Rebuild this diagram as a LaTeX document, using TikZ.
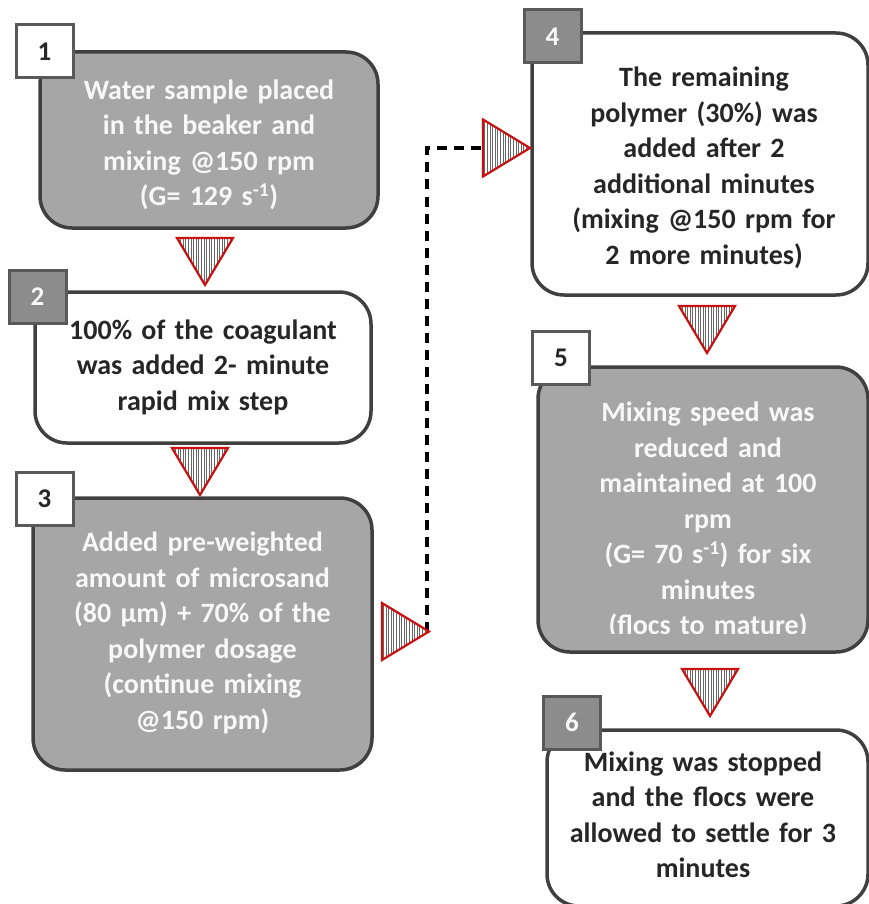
\documentclass[tikz,border=0pt]{standalone}
\usepackage{fontspec}
\setmainfont{Carlito}
\usetikzlibrary{patterns}
\pgfdeclarepatternformonly{finevlines}{\pgfqpoint{0pt}{-1pt}}{\pgfqpoint{2.6pt}{1pt}}{\pgfqpoint{2.6pt}{2pt}}{%
  \pgfsetlinewidth{0.9pt}%
  \pgfpathmoveto{\pgfqpoint{1.3pt}{-1.1pt}}%
  \pgfpathlineto{\pgfqpoint{1.3pt}{1.1pt}}%
  \pgfusepath{stroke}}
\definecolor{boxgray}{RGB}{166,166,166}
\definecolor{numgray}{RGB}{140,140,140}
\definecolor{edgedark}{RGB}{64,64,64}
\definecolor{edgenum}{RGB}{89,89,89}
\definecolor{txtdark}{RGB}{38,38,38}
\definecolor{txtlight}{RGB}{248,248,248}
\definecolor{tried}{RGB}{200,16,16}
\tikzset{
  stepfont/.style={font=\bfseries\fontsize{28}{35.5}\selectfont},
  mainbox/.style={draw=edgedark, line width=3.5pt, rounded corners=32pt, inner sep=0pt},
  graybox/.style={mainbox, fill=boxgray},
  whitebox/.style={mainbox, fill=white},
  boxtext/.style={stepfont, align=center, inner sep=0pt, text width=325pt},
  lighttext/.style={boxtext, text=txtlight},
  darktext/.style={boxtext, text=txtdark},
  numbox/.style={draw=edgenum, line width=3pt, minimum width=57pt, minimum height=53pt, inner sep=0pt, font=\bfseries\fontsize{27}{30}\selectfont},
  numwhite/.style={numbox, fill=white, text=txtdark},
  numgraybox/.style={numbox, fill=numgray, text=txtlight},
  tri/.style={draw=tried, line width=2.2pt, line join=miter, preaction={fill=white}, pattern=finevlines, pattern color=black!60},
  dashlink/.style={line width=3.2pt, dash pattern=on 10pt off 7pt, black}
}
\begin{document}
\begin{tikzpicture}[x=1pt,y=-1pt]
\useasboundingbox (0,0) rectangle (869,904);
\clip (0,0) rectangle (869,904);
% main boxes
\node[graybox, minimum width=338pt, minimum height=176pt] (b1) at (209,140) {};
\node[lighttext] (b1t) at (209,145)
  {Water sample placed\\in the beaker and\\mixing @150 rpm\\(G= 129 s\textsuperscript{-1})};
\node[whitebox, minimum width=336pt, minimum height=151pt] (b2) at (203,367.5) {};
\node[darktext] (b2t) at (203,367)
  {100\% of the coagulant\\was added 2- minute\\rapid mix step};
\node[graybox, minimum width=339pt, minimum height=272pt] (b3) at (202.5,634) {};
\node[lighttext] (b3t) at (202.5,633)
  {Added pre-weighted\\amount of microsand\\(80 µm) + 70\% of the\\polymer dosage\\(continue mixing\\@150 rpm)};
\node[whitebox, minimum width=336pt, minimum height=262pt] (b4) at (700,164) {};
\node[darktext] (b4t) at (704,168)
  {The remaining\\polymer (30\%) was\\added after 2\\additional minutes\\(mixing @150 rpm for\\2 more minutes)};
\node[graybox, minimum width=330pt, minimum height=285pt] (b5) at (703,509.5) {};
\begin{scope}
  \clip (541,370) rectangle (866,633);
  \node[lighttext, anchor=north] (b5t) at (708,402)
    {Mixing speed was\\reduced and\\maintained at 100\\rpm\\(G= 70 s\textsuperscript{-1}) for six\\minutes\\(flocs to mature)};
\end{scope}
\node[whitebox, minimum width=321pt, minimum height=176pt] (b6) at (707.5,818) {};
\node[darktext] (b6t) at (703,815)
  {Mixing was stopped\\and the flocs were\\allowed to settle for 3\\minutes};
% number boxes
\node[numwhite] (n1) at (44.5,51.5) {1};
\node[numgraybox] (n2) at (37.5,296.5) {2};
\node[numwhite] (n3) at (44.5,499) {3};
\node[numgraybox] (n4) at (552.5,36.5) {4};
\node[numwhite] (n5) at (561,357.5) {5};
\node[numgraybox] (n6) at (572,722.5) {6};
% triangle anchors
\coordinate (t1) at (205,238);
\coordinate (t2) at (200,448);
\coordinate (t4) at (707,306);
\coordinate (t5) at (710,669);
\coordinate (t3) at (382,631.5);
\coordinate (t3tip) at (427,631.5);
\coordinate (t6) at (483,148);
% dashed link
\draw[dashlink] (t3tip) |- (t6);
% down triangles
\foreach \c in {t1,t2,t4,t5}{
  \draw[tri] (\c) ++(-28,0) -- ++(56,0) -- ++(-28,47) -- cycle;
}
% right triangles
\foreach \c in {t3,t6}{
  \draw[tri] (\c) ++(0,-28.5) -- ++(47,28.5) -- ++(-47,28.5) -- cycle;
}
\end{tikzpicture}
\end{document}
